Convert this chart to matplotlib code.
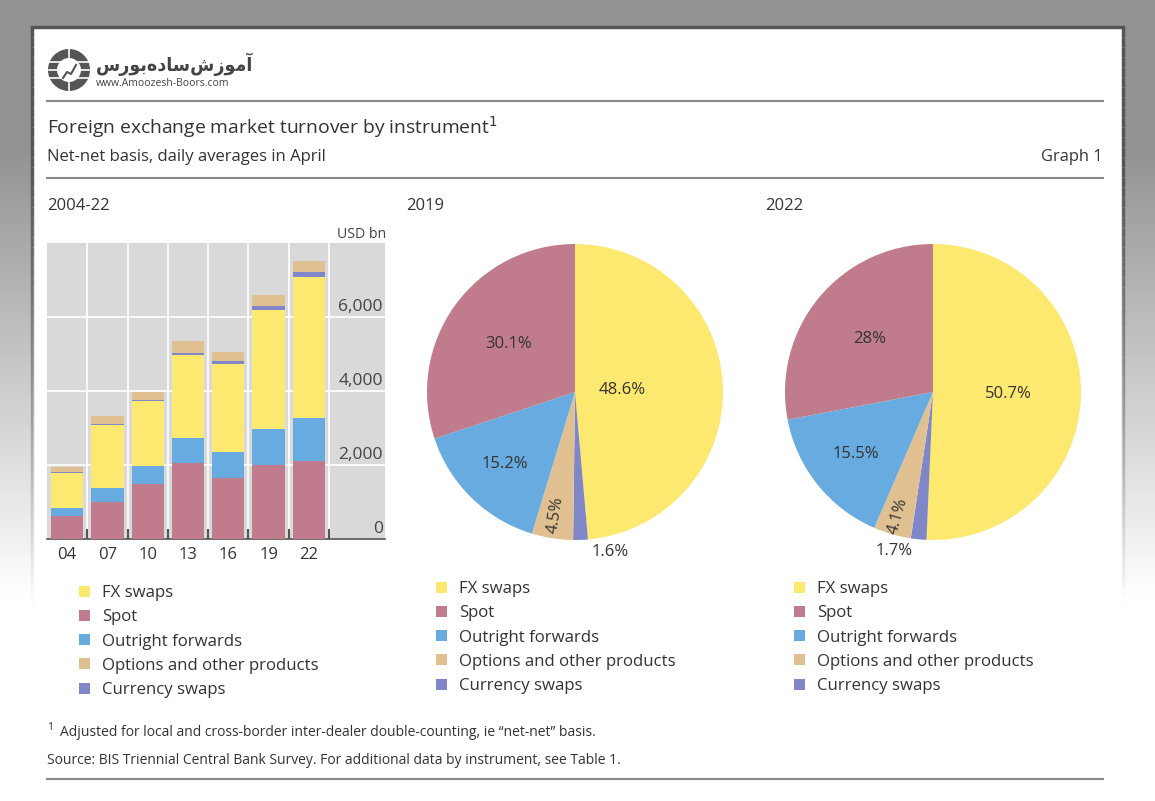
import numpy as np
import matplotlib
matplotlib.use("Agg")
import matplotlib.pyplot as plt
from matplotlib.patches import Rectangle, Circle

plt.rcParams['font.family'] = ['Open Sans', 'DejaVu Sans']

# Data (USD bn)
years = ["04", "07", "10", "13", "16", "19", "22"]
spot = [631, 1005, 1489, 2047, 1652, 1987, 2107]
outright_forwards = [209, 362, 475, 679, 700, 999, 1163]
fx_swaps = [954, 1714, 1759, 2240, 2378, 3202, 3810]
currency_swaps = [21, 31, 43, 54, 82, 108, 124]
options_other = [119, 212, 207, 337, 254, 294, 304]

y_ticks = [0, 2000, 4000, 6000]

# Pie shares (%), clockwise from the top
pie_labels = ["FX swaps", "Currency swaps", "Options and other products",
              "Outright forwards", "Spot"]
share_2019 = [48.6, 1.6, 4.5, 15.2, 30.1]
share_2022 = [50.7, 1.7, 4.1, 15.5, 28.0]
pct_text_2019 = ["48.6%", "1.6%", "4.5%", "15.2%", "30.1%"]
pct_text_2022 = ["50.7%", "1.7%", "4.1%", "15.5%", "28%"]

legend_labels = ["FX swaps", "Spot", "Outright forwards",
                 "Options and other products", "Currency swaps"]

# colours
C_FX = "#FDE870"
C_SPOT = "#C07C8C"
C_FWD = "#67ABE0"
C_OPT = "#E0C090"
C_CS = "#7F87C9"
col_map = {"FX swaps": C_FX, "Spot": C_SPOT, "Outright forwards": C_FWD,
           "Options and other products": C_OPT, "Currency swaps": C_CS}
TXT = "#333333"

W, H = 1155, 801
fig = plt.figure(figsize=(W / 100, H / 100), dpi=100)


def fx(px):
    return px / W


def fy(py):
    return 1 - py / H


# background: grey frame fading to white toward the bottom
bg = fig.add_axes([0, 0, 1, 1], zorder=-10)
rows = np.arange(H)
g = np.clip((rows - 150) / 450, 0, 1)
shade = 0.575 + (1 - 0.575) * g
bg.imshow(np.repeat(shade[:, None], 2, axis=1), cmap="gray", vmin=0, vmax=1,
          aspect="auto", extent=[0, W, H, 0])
bg.add_patch(Rectangle((33, 27), 1090, H - 27, facecolor="white", edgecolor="none"))
bg.plot([32, 1123], [27, 27], color="#555555", lw=2.5)
# side borders fade out going down
for y_a in range(27, 620, 10):
    a = float(np.clip(1 - (y_a - 150) / 450, 0, 1))
    bg.plot([32, 32], [y_a, y_a + 10], color="#555555", lw=2.5, alpha=a, solid_capstyle="butt")
    bg.plot([1123, 1123], [y_a, y_a + 10], color="#555555", lw=2.5, alpha=a, solid_capstyle="butt")
bg.set_xlim(0, W)
bg.set_ylim(H, 0)
bg.axis("off")

# logo
bg.add_patch(Circle((69, 70), 21, facecolor="#555555", edgecolor="none"))
bg.add_patch(Circle((69, 70), 12, facecolor="white", edgecolor="none"))
for yy in (62, 70, 78):
    bg.plot([49, 89], [yy, yy], color="white", lw=1.2)
bg.plot([69, 69], [49, 91], color="white", lw=1.2)
bg.plot([63, 67, 71, 76], [78, 72, 74, 65], color="#555555", lw=1.5)
fig.text(fx(96), fy(64), "\ufeb1\ufead\ufeee\ufe91\ufee9\ufea9\ufe8e\ufeb3\ufeb5\ufeaf\ufeee\ufee3\ufe81",
         fontsize=14, fontweight="bold", color="#444444", va="center",
         family=["DejaVu Sans"], fontstretch="condensed")
fig.text(fx(96), fy(83), "www.Amoozesh-Boors.com", fontsize=7.5, color="#444444", va="center")

# rules
for yy in (101, 178, 779):
    bg.plot([47, 1103], [yy, yy], color="#8a8a8a", lw=1.5)

fig.text(fx(47), fy(127), "Foreign exchange market turnover by instrument$^{1}$",
         fontsize=13.9, color=TXT, va="center")
fig.text(fx(47), fy(157), "Net-net basis, daily averages in April", fontsize=12, color=TXT, va="center")
fig.text(fx(1103), fy(157), "Graph 1", fontsize=11.8, color=TXT, va="center", ha="right")
fig.text(fx(47), fy(206), "2004-22", fontsize=12, color=TXT, va="center")
fig.text(fx(406), fy(206), "2019", fontsize=12, color=TXT, va="center")
fig.text(fx(765), fy(206), "2022", fontsize=12, color=TXT, va="center")
fig.text(fx(386), fy(234), "USD bn", fontsize=10.2, color="#444444", va="center", ha="right")

# ---- stacked bars ----
ax = fig.add_axes([fx(47), fy(539), fx(385 - 47), (539 - 243) / H])
ax.set_facecolor("#D9D9D9")
x = np.arange(len(years))
bottom = np.zeros(len(years))
for vals, c in [(spot, C_SPOT), (outright_forwards, C_FWD), (fx_swaps, C_FX),
                (currency_swaps, C_CS), (options_other, C_OPT)]:
    ax.bar(x, vals, bottom=bottom, width=0.8, color=c, zorder=3)
    bottom += np.array(vals)
ax.set_xlim(-0.5, 7.89)
ax.set_ylim(0, 8000)
for v in y_ticks[1:]:
    ax.axhline(v, color="white", lw=1.2, zorder=1)
for b in np.arange(0.5, 7, 1.0):
    ax.axvline(b, color="white", lw=1.2, zorder=1)
for v in y_ticks:
    ax.text(7.84, v + 50, f"{v:,}", ha="right", va="bottom", fontsize=12.5, color="#444444")
ax.set_yticks([])
ax.set_xticks(x)
ax.set_xticklabels(years, fontsize=12, color=TXT)
ax.tick_params(axis="x", length=0, pad=6)
ax.set_xticks(np.arange(0.5, 7, 1.0), minor=True)
ax.tick_params(axis="x", which="minor", direction="in", length=7, width=1.2, color="#333333")
for s in ("top", "right", "left"):
    ax.spines[s].set_visible(False)
ax.spines["bottom"].set_color("#555555")
ax.spines["bottom"].set_linewidth(1.2)


# ---- pies ----
def draw_pie(cx, cy, shares, texts, radii, rots, offsets):
    r = 148
    pa = fig.add_axes([fx(cx - r), fy(cy + r), 2 * r / W, 2 * r / H])
    cols = [col_map[l] for l in pie_labels]
    wedges, _ = pa.pie(shares, colors=cols, startangle=90, counterclock=False,
                       radius=1.0, wedgeprops=dict(linewidth=0))
    pa.set_xlim(-1, 1)
    pa.set_ylim(-1, 1)
    pa.set_aspect("equal")
    pa.axis("off")
    for w, t, rr, rot, off in zip(wedges, texts, radii, rots, offsets):
        mid = np.deg2rad((w.theta1 + w.theta2) / 2)
        tx = rr * np.cos(mid) + off[0]
        ty = rr * np.sin(mid) + off[1]
        ang = (w.theta1 + w.theta2) / 2 + 180 if rot else 0
        pa.text(tx, ty, t, ha="center", va="center", fontsize=12, color=TXT,
                rotation=ang, rotation_mode="anchor", clip_on=False)


draw_pie(575, 392, share_2019, pct_text_2019,
         [0.32, 1.08, 0.84, 0.68, 0.55], [False, False, True, False, False],
         [(0, 0), (0.2, 0), (0, 0), (0, 0), (0, 0)])
draw_pie(933, 392, share_2022, pct_text_2022,
         [0.51, 1.08, 0.87, 0.67, 0.56], [False, False, True, False, False],
         [(0, 0), (-0.16, 0), (0, 0), (0, 0), (0, 0)])


# ---- legends ----
def draw_legend(mx, tx, y0, dy):
    for i, lab in enumerate(legend_labels):
        yy = y0 + i * dy
        bg.add_patch(Rectangle((mx - 5.5, yy - 5.5), 11, 11, facecolor=col_map[lab], edgecolor="none"))
        fig.text(fx(tx), fy(yy + 2), lab, fontsize=12.1, color=TXT, va="center")


draw_legend(84, 102, 591, 24.3)
draw_legend(441, 459, 587, 24.3)
draw_legend(799, 817, 587, 24.3)

# footnotes
fig.text(fx(47), fy(727), "1", fontsize=7.5, color=TXT, va="center")
fig.text(fx(60), fy(732), "Adjusted for local and cross-border inter-dealer double-counting, ie \u201cnet-net\u201d basis.",
         fontsize=10, color=TXT, va="center")
fig.text(fx(47), fy(761), "Source: BIS Triennial Central Bank Survey. For additional data by instrument, see Table 1.",
         fontsize=10, color=TXT, va="center")

fig.savefig("out.png", dpi=100)
